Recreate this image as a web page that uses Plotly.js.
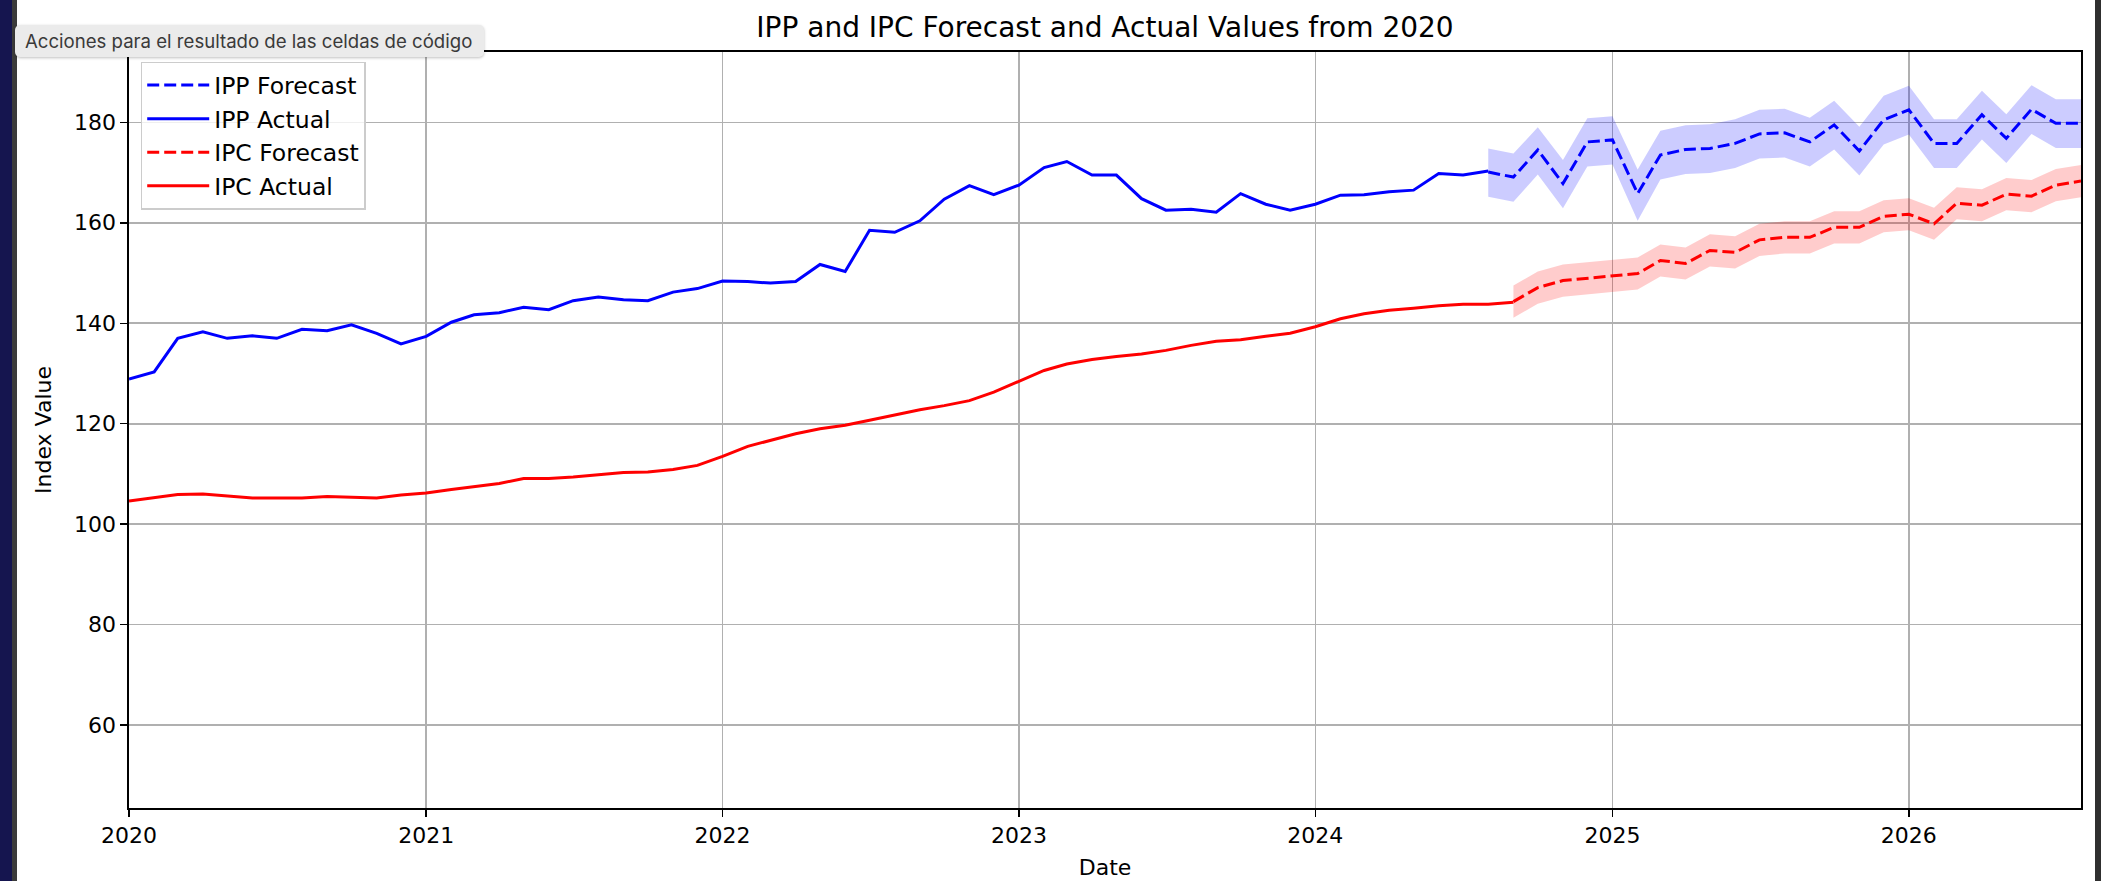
<!DOCTYPE html>
<html>
<head>
<meta charset="utf-8">
<script src="https://cdn.plot.ly/plotly-3.0.1.min.js"></script>
<style>
  body { margin: 0; background: #2f2f2f; width: 2101px; height: 881px; overflow: hidden; position: relative; }
  #edge { position: absolute; left: 0; top: 0; width: 12px; height: 881px; background: #15154f; }
  #strip { position: absolute; left: 12px; top: 0; width: 5px; height: 881px; background: #3b3b3b; }
  #chart { position: absolute; left: 17px; top: 0; width: 2078px; height: 881px; background: #fff; }
  #tip {
    position: absolute; left: 15px; top: 25px; width: 469px; height: 32px;
    background: #ebebeb; border-radius: 5px; box-shadow: 0 1px 3px rgba(0,0,0,0.25);
    font-family: Inter, "Liberation Sans", sans-serif; font-size: 18.6px; color: #3a3a3a;
    line-height: 32px; padding-left: 10px; box-sizing: border-box; z-index: 10; white-space: nowrap;
  }
</style>
</head>
<body>
<div id="edge"></div>
<div id="strip"></div>
<div id="chart"></div>
<div id="tip">Acciones para el resultado de las celdas de código</div>
<script>
// monthly date labels (first of month)
function months(year, month, n) {
  var out = [];
  for (var i = 0; i < n; i++) {
    var m = month - 1 + i;
    var y = year + Math.floor(m / 12);
    var mm = (m % 12) + 1;
    out.push(y + '-' + (mm < 10 ? '0' + mm : mm) + '-01');
  }
  return out;
}

// IPP actual, 2020-01 .. 2024-08
var ippActual = [
  128.9, 130.3, 137.0, 138.3, 137.0, 137.5, 137.0, 138.8, 138.5, 139.7, 138.0, 135.9,
  137.4, 140.2, 141.7, 142.1, 143.2, 142.7, 144.5, 145.2, 144.7, 144.5, 146.2, 146.9,
  148.4, 148.3, 148.0, 148.3, 151.7, 150.3, 158.5, 158.1, 160.4, 164.7, 167.4, 165.6,
  167.5, 171.0, 172.2, 169.5, 169.5, 164.8, 162.5, 162.7, 162.1, 165.8, 163.7, 162.5,
  163.7, 165.5, 165.6, 166.2, 166.5, 169.8, 169.5, 170.3
];

// IPC actual, 2020-01 .. 2024-09
var ipcActual = [
  104.6, 105.3, 105.9, 106.0, 105.6, 105.2, 105.2, 105.2, 105.5, 105.4, 105.2, 105.8,
  106.2, 106.9, 107.4, 108.1, 109.1, 109.1, 109.4, 109.9, 110.3, 110.4, 110.9, 111.7,
  113.5, 115.5, 116.7, 118.0, 119.0, 119.7, 120.7, 121.8, 122.8, 123.6, 124.6, 126.3,
  128.4, 130.6, 131.9, 132.8, 133.4, 133.9, 134.6, 135.6, 136.4, 136.7, 137.4, 138.0,
  139.3, 140.9, 141.9, 142.6, 143.0, 143.5, 143.8, 143.8, 144.2
];

// IPP forecast, 2024-08 .. 2026-08
var ippForecast = [
  170.1, 169.1, 174.5, 167.8, 176.1, 176.5, 165.8, 173.5, 174.6, 174.8, 175.8, 177.7,
  177.9, 176.1, 179.5, 174.3, 180.5, 182.5, 175.8, 175.8, 181.5, 176.8, 182.6, 179.8, 179.8
];
var ippUpper = [
  174.8, 173.8, 179.0, 172.5, 180.8, 181.2, 170.6, 178.3, 179.4, 179.6, 180.6, 182.5,
  182.7, 180.9, 184.3, 179.1, 185.3, 187.3, 180.6, 180.6, 186.3, 181.6, 187.4, 184.6, 184.6
];
var ippLower = [
  165.2, 164.2, 169.6, 162.9, 171.2, 171.6, 160.4, 168.6, 169.7, 169.9, 170.9, 172.8,
  173.0, 171.2, 174.6, 169.4, 175.6, 177.6, 170.9, 170.9, 176.6, 171.9, 177.7, 174.9, 174.9
];

// IPC forecast, 2024-09 .. 2026-08
var ipcForecast = [
  144.3, 147.1, 148.5, 149.0, 149.5, 149.9, 152.5, 151.9, 154.5, 154.1, 156.6, 157.1,
  157.1, 159.1, 159.1, 161.3, 161.7, 159.8, 163.9, 163.5, 165.7, 165.3, 167.5, 168.3
];
var ipcUpper = [
  147.5, 150.3, 151.7, 152.2, 152.7, 153.1, 155.7, 155.1, 157.7, 157.3, 159.8, 160.3,
  160.3, 162.3, 162.3, 164.5, 164.9, 163.0, 167.1, 166.7, 168.9, 168.5, 170.7, 171.5
];
var ipcLower = [
  141.1, 143.9, 145.3, 145.8, 146.3, 146.7, 149.3, 148.7, 151.3, 150.9, 153.4, 153.9,
  153.9, 155.9, 155.9, 158.1, 158.5, 156.6, 160.7, 160.3, 162.5, 162.1, 164.3, 165.1
];

var actualIppDates = months(2020, 1, ippActual.length);
var actualIpcDates = months(2020, 1, ipcActual.length);
var ippFcDates = months(2024, 8, ippForecast.length);
var ipcFcDates = months(2024, 9, ipcForecast.length);

var FONT = 'DejaVu Sans, sans-serif';

var ippBandTop = {
  x: ippFcDates, y: ippUpper, mode: 'lines', type: 'scatter',
  line: { width: 0, color: 'rgba(0,0,255,0)' }, showlegend: false, hoverinfo: 'skip'
};
var ippBand = {
  x: ippFcDates, y: ippLower, mode: 'lines', type: 'scatter', fill: 'tonexty',
  fillcolor: 'rgba(0,0,255,0.2)', line: { width: 0, color: 'rgba(0,0,255,0)' },
  showlegend: false, hoverinfo: 'skip'
};
var ipcBandTop = {
  x: ipcFcDates, y: ipcUpper, mode: 'lines', type: 'scatter',
  line: { width: 0, color: 'rgba(255,0,0,0)' }, showlegend: false, hoverinfo: 'skip'
};
var ipcBand = {
  x: ipcFcDates, y: ipcLower, mode: 'lines', type: 'scatter', fill: 'tonexty',
  fillcolor: 'rgba(255,0,0,0.2)', line: { width: 0, color: 'rgba(255,0,0,0)' },
  showlegend: false, hoverinfo: 'skip'
};

var trace1 = {
  x: ippFcDates, y: ippForecast, mode: 'lines', type: 'scatter', name: 'IPP Forecast',
  line: { color: '#0000ff', width: 3, dash: '12px,5px' }
};
var trace2 = {
  x: actualIppDates, y: ippActual, mode: 'lines', type: 'scatter', name: 'IPP Actual',
  line: { color: '#0000ff', width: 3 }
};
var trace3 = {
  x: ipcFcDates, y: ipcForecast, mode: 'lines', type: 'scatter', name: 'IPC Forecast',
  line: { color: '#ff0000', width: 3, dash: '12px,5px' }
};
var trace4 = {
  x: actualIpcDates, y: ipcActual, mode: 'lines', type: 'scatter', name: 'IPC Actual',
  line: { color: '#ff0000', width: 3 }
};

var data = [ippBandTop, ippBand, ipcBandTop, ipcBand, trace1, trace2, trace3, trace4];

var layout = {
  width: 2078, height: 881,
  margin: { l: 112, r: 14, t: 52, b: 73 },
  paper_bgcolor: '#ffffff', plot_bgcolor: '#ffffff',
  font: { family: FONT, size: 22, color: '#000' },
  title: {
    text: 'IPP and IPC Forecast and Actual Values from 2020',
    font: { family: FONT, size: 28, color: '#000' },
    x: 0.5, xref: 'paper', xanchor: 'center',
    y: 1 - 27 / 881, yref: 'container', yanchor: 'middle'
  },
  xaxis: {
    title: { text: 'Date', font: { size: 22 }, standoff: 12 },
    type: 'date', range: ['2020-01-01', '2026-08-01'],
    tickvals: ['2020-01-01', '2021-01-01', '2022-01-01', '2023-01-01', '2024-01-01', '2025-01-01', '2026-01-01'],
    ticktext: ['2020', '2021', '2022', '2023', '2024', '2025', '2026'],
    showgrid: true, gridcolor: '#b0b0b0', gridwidth: 1.6,
    showline: true, linecolor: '#000', linewidth: 1.6, mirror: true,
    ticks: 'outside', ticklen: 7, tickwidth: 1.5, tickcolor: '#000',
    zeroline: false, tickfont: { size: 22 }
  },
  yaxis: {
    title: { text: 'Index Value', font: { size: 22 }, standoff: 16 },
    range: [43.5, 194.0], tick0: 0, dtick: 20,
    showgrid: true, gridcolor: '#b0b0b0', gridwidth: 1.6,
    showline: true, linecolor: '#000', linewidth: 1.6, mirror: true,
    ticks: 'outside', ticklen: 7, tickwidth: 1.5, tickcolor: '#000',
    zeroline: false, tickfont: { size: 22 }
  },
  legend: {
    x: 0.006, y: 0.987, xanchor: 'left', yanchor: 'top',
    bgcolor: 'rgba(255,255,255,0.8)', bordercolor: '#cccccc', borderwidth: 1.5,
    font: { family: FONT, size: 23.5 }, traceorder: 'normal', itemwidth: 62
  },
  showlegend: true
};

Plotly.newPlot('chart', data, layout, { displayModeBar: false, staticPlot: true });
</script>
</body>
</html>
